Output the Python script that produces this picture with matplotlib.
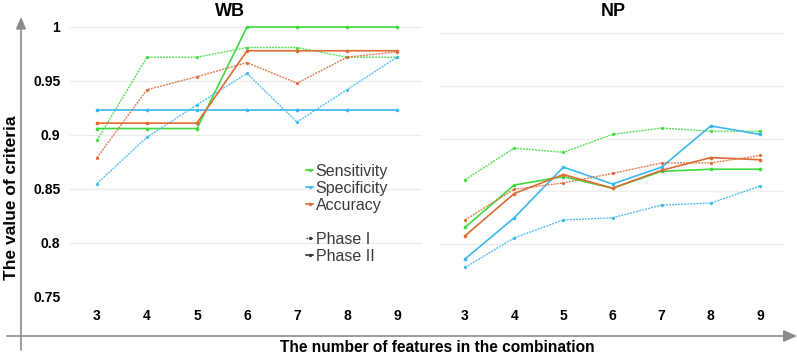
import matplotlib
matplotlib.use("Agg")
import matplotlib.pyplot as plt
from matplotlib.lines import Line2D

plt.rcParams["font.family"] = ["Liberation Sans", "DejaVu Sans"]

# number of features in the combination
features = [3, 4, 5, 6, 7, 8, 9]

# WB panel
wb_sens_p1 = [0.895, 0.972, 0.972, 0.981, 0.981, 0.972, 0.972]
wb_sens_p2 = [0.906, 0.906, 0.906, 1.000, 1.000, 1.000, 1.000]
wb_spec_p1 = [0.855, 0.898, 0.928, 0.957, 0.912, 0.942, 0.972]
wb_spec_p2 = [0.923, 0.923, 0.923, 0.923, 0.923, 0.923, 0.923]
wb_acc_p1 = [0.879, 0.942, 0.954, 0.967, 0.948, 0.972, 0.977]
wb_acc_p2 = [0.911, 0.911, 0.911, 0.978, 0.978, 0.978, 0.978]

# NP panel
np_sens_p1 = [0.861, 0.891, 0.887, 0.904, 0.910, 0.907, 0.907]
np_sens_p2 = [0.816, 0.856, 0.864, 0.853, 0.869, 0.871, 0.871]
np_spec_p1 = [0.778, 0.806, 0.823, 0.825, 0.837, 0.839, 0.855]
np_spec_p2 = [0.786, 0.825, 0.873, 0.857, 0.873, 0.912, 0.904]
np_acc_p1 = [0.823, 0.852, 0.858, 0.867, 0.877, 0.877, 0.884]
np_acc_p2 = [0.808, 0.848, 0.866, 0.853, 0.870, 0.882, 0.880]

y_ticks = [0.75, 0.8, 0.85, 0.9, 0.95, 1.0]
y_ticklabels = ["0.75", "0.8", "0.85", "0.9", "0.95", "1"]

GREEN = "#3ddc3d"
BLUE = "#3cb8ee"
ORANGE = "#de6b36"
GRID = "#ececec"

W, H = 797, 355
fig = plt.figure(figsize=(W / 100, H / 100), dpi=100)


def draw_panel(ax, series, title, title_x, show_y):
    for vals, color, style in series:
        if style == "solid":
            ax.plot(features, vals, color=color, lw=1.2, marker="o", ms=1.6,
                    clip_on=False, zorder=3)
        else:
            ax.plot(features, vals, color=color, lw=1.0, ls=(0, (1.4, 0.8)),
                    marker="o", ms=1.4, alpha=0.9, clip_on=False, zorder=3)
    ax.set_ylim(0.75, 1.0)
    ax.set_xticks(features)
    ax.set_xticklabels([str(f) for f in features], fontsize=10, fontweight="bold")
    ax.set_yticks(y_ticks)
    if show_y:
        ax.set_yticklabels(y_ticklabels, fontsize=10, fontweight="bold")
    else:
        ax.set_yticklabels([])
    ax.tick_params(axis="x", length=0, pad=9)
    ax.tick_params(axis="y", length=0, pad=7)
    ax.grid(axis="y", color=GRID, lw=1)
    ax.set_axisbelow(True)
    for s in ax.spines.values():
        s.set_visible(False)
    fig.text(title_x / W, 1 - 11 / H, title, fontsize=13, fontweight="bold",
             ha="center", va="center")


ax1 = fig.add_axes([70 / W, 58 / H, 352 / W, 270 / H])
draw_panel(ax1, [
    (wb_sens_p1, GREEN, "dot"), (wb_sens_p2, GREEN, "solid"),
    (wb_spec_p1, BLUE, "dot"), (wb_spec_p2, BLUE, "solid"),
    (wb_acc_p1, ORANGE, "dot"), (wb_acc_p2, ORANGE, "solid"),
], "WB", 230, True)
ax1.set_xlim(2.46, 9.5)

ax2 = fig.add_axes([440 / W, 58 / H, 345 / W, 264 / H])
draw_panel(ax2, [
    (np_sens_p1, GREEN, "dot"), (np_sens_p2, GREEN, "solid"),
    (np_spec_p1, BLUE, "dot"), (np_spec_p2, BLUE, "solid"),
    (np_acc_p1, ORANGE, "dot"), (np_acc_p2, ORANGE, "solid"),
], "NP", 613, False)
ax2.set_xlim(2.49, 9.51)

# legend
handles = [
    Line2D([], [], color=GREEN, lw=1.2, marker="o", ms=1.4),
    Line2D([], [], color=BLUE, lw=1.2, marker="o", ms=1.4),
    Line2D([], [], color=ORANGE, lw=1.2, marker="o", ms=1.4),
    Line2D([], [], color="none"),
    Line2D([], [], color="#333333", lw=1.0, ls=(0, (1.0, 0.8)), marker="o", ms=1.4),
    Line2D([], [], color="#333333", lw=1.2, marker="o", ms=1.4),
]
labels = ["Sensitivity", "Specificity", "Accuracy", "", "Phase I", "Phase II"]
leg = ax1.legend(handles, labels, loc="upper left",
                 bbox_to_anchor=(306 / W, 1 - 164 / H),
                 bbox_transform=fig.transFigure, frameon=False,
                 handlelength=0.45, handletextpad=0.15, labelspacing=0.12,
                 fontsize=11.5, borderaxespad=0, borderpad=0)
for t in leg.get_texts():
    t.set_color("#3a3a3a")

# overarching arrow axes
ov = fig.add_axes([0, 0, 1, 1], facecolor="none")
ov.set_xlim(0, W)
ov.set_ylim(H, 0)
ov.axis("off")
ov.annotate("", xy=(21, 17), xytext=(21, 350),
            arrowprops=dict(arrowstyle="-|>,head_length=0.7,head_width=0.3",
                            color="#8a8a8a", lw=1.2, shrinkA=0, shrinkB=0))
ov.annotate("", xy=(797, 336), xytext=(7, 336),
            arrowprops=dict(arrowstyle="-|>,head_length=0.8,head_width=0.35",
                            color="#8a8a8a", lw=1.2, shrinkA=0, shrinkB=0))

fig.text(12 / W, 1 - 198 / H, "The value of criteria", rotation=90,
         fontsize=12.5, fontweight="bold", ha="center", va="center")
fig.text(437 / W, 1 - 347 / H, "The number of features in the combination",
         fontsize=11.2, fontweight="bold", ha="center", va="center")

fig.savefig("out.png", dpi=100)
plt.close(fig)
